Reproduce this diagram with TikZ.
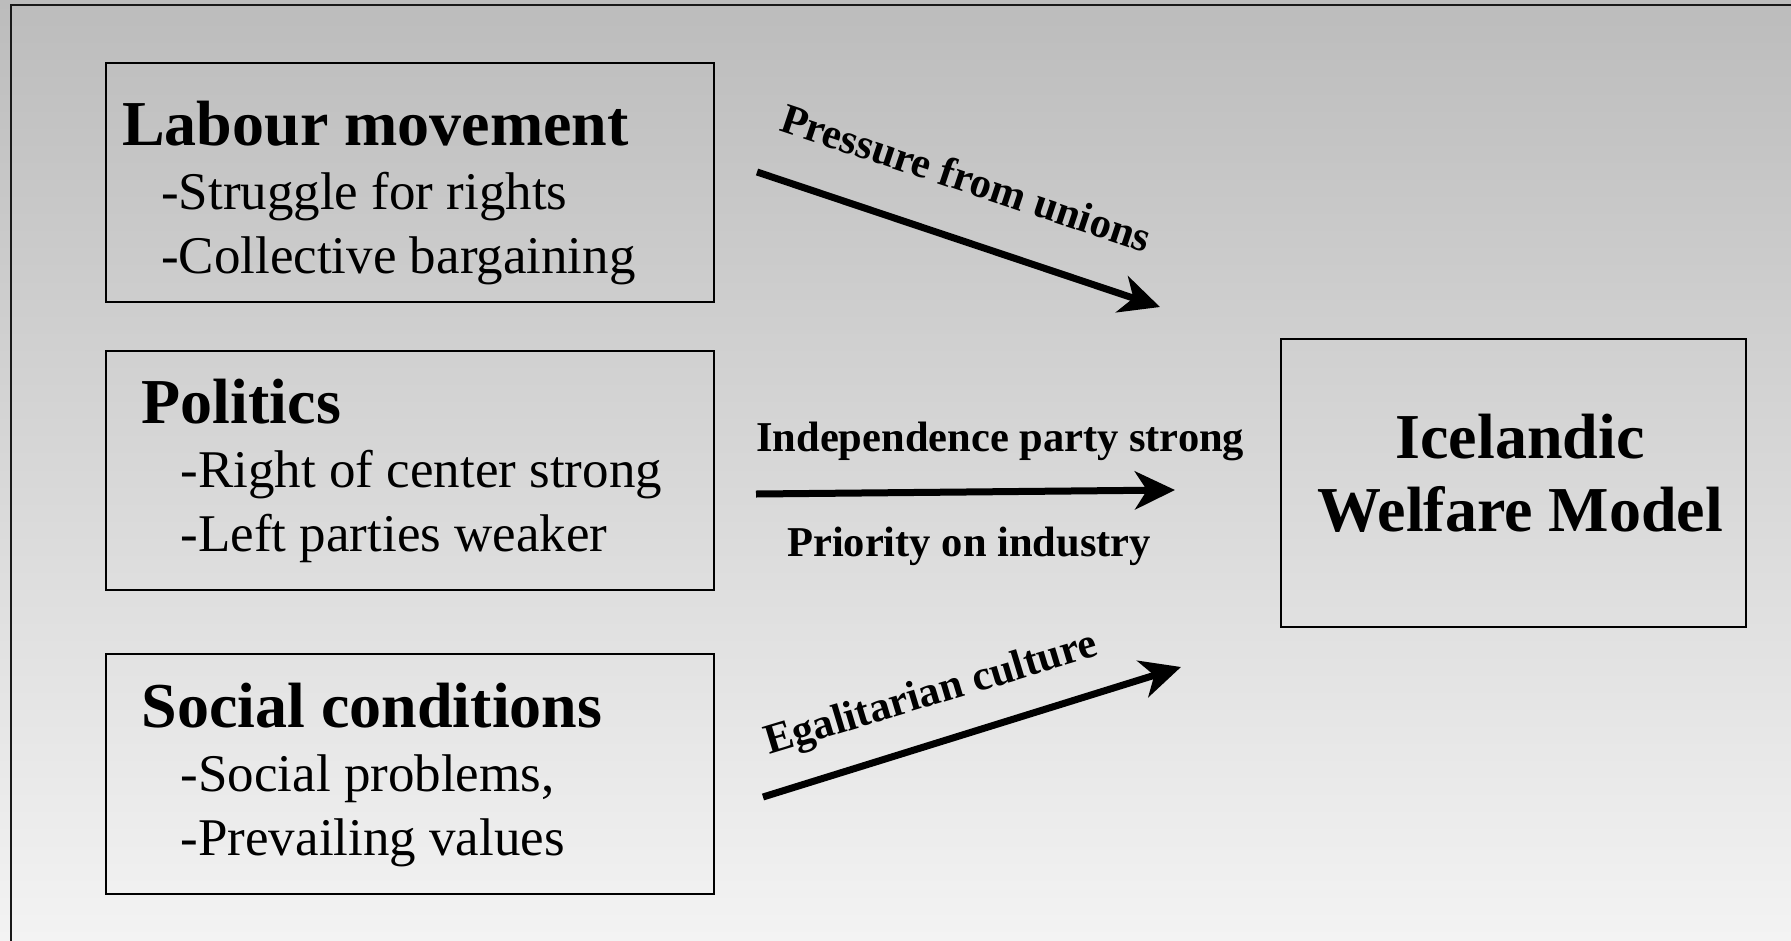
\documentclass[tikz,border=0pt]{standalone}
\usepackage{fontspec}
\setmainfont{Liberation Serif}
\usetikzlibrary{arrows.meta}
\definecolor{bgtop}{RGB}{188,188,188}
\definecolor{bgbottom}{RGB}{243,243,243}
\begin{document}
\begin{tikzpicture}[x=1pt,y=-1pt,
  factorbox/.style={draw=black, line width=2.2pt, inner sep=0pt, anchor=north west},
  boxtitle/.style={anchor=base west, inner sep=0pt, font=\fontsize{64}{76}\selectfont\bfseries},
  boxitem/.style={anchor=base west, inner sep=0pt, font=\fontsize{53}{64}\selectfont},
  modeltext/.style={anchor=base, inner sep=0pt, font=\fontsize{64}{76}\selectfont\bfseries},
  flowlabel/.style={anchor=base west, inner sep=0pt, font=\fontsize{42.5}{51}\selectfont\bfseries},
  flow/.style={line width=7pt, -{Stealth[length=40pt,width=38pt,inset=12pt]}}
]
\useasboundingbox (0,0) rectangle (1791,940);
% background with vertical grey gradient
\shade[top color=bgtop, bottom color=bgbottom] (0,0) rectangle (1791,940);
% outer frame (runs off the right and bottom edges)
\draw[line width=2.2pt, black!90] (11,960) -- (11,5) -- (1810,5);

% factor boxes
\node[factorbox, minimum width=608pt, minimum height=239pt] (labour) at (105,62) {};
\node[factorbox, minimum width=608pt, minimum height=239pt] (politics) at (105,350) {};
\node[factorbox, minimum width=608pt, minimum height=240pt] (social) at (105,653) {};
\node[factorbox, minimum width=465pt, minimum height=288pt] (model) at (1280,338) {};

% box texts
\node[boxtitle] (labourT) at (122,145) {Labour movement};
\node[boxitem] (labourA) at (161,209) {-Struggle for rights};
\node[boxitem] (labourB) at (161,273) {-Collective bargaining};

\node[boxtitle] (politicsT) at (141.6,423.5) {Politics};
\node[boxitem] (politicsA) at (180.5,487.7) {-Right of center strong};
\node[boxitem] (politicsB) at (180.5,551.7) {-Left parties weaker};

\node[boxtitle] (socialT) at (141.6,727.6) {Social conditions};
\node[boxitem] (socialA) at (180.5,791.5) {-Social problems,};
\node[boxitem] (socialB) at (180.5,855.5) {-Prevailing values};

\node[modeltext] (modelA) at (1520,458.5) {Icelandic};
\node[modeltext] (modelB) at (1520,531.6) {Welfare Model};

% arrows
\coordinate (a1s) at (757,172);
\coordinate (a1e) at (1160,307);
\coordinate (a2s) at (756,494);
\coordinate (a2e) at (1175,490);
\coordinate (a3s) at (763,797);
\coordinate (a3e) at (1181,667);
\draw[flow] (a1s) -- (a1e);
\draw[flow] (a2s) -- (a2e);
\draw[flow] (a3s) -- (a3e);

% arrow labels
\node[flowlabel, rotate=-18.5] (pressure) at (778,130) {Pressure from unions};
\node[flowlabel] (independence) at (756,451) {Independence party strong};
\node[flowlabel] (priority) at (787,556) {Priority on industry};
\node[flowlabel, rotate=16.8] (egalitarian) at (769,755) {Egalitarian culture};
\end{tikzpicture}
\end{document}
